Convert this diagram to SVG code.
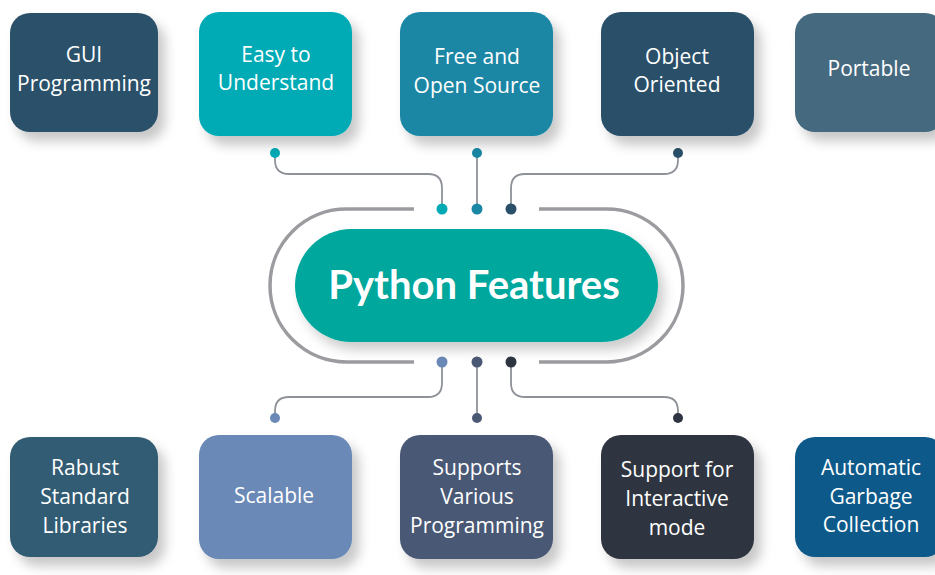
<svg xmlns="http://www.w3.org/2000/svg" width="935" height="575" viewBox="0 0 935 575">
<defs>
<filter id="sh" x="-20%" y="-20%" width="150%" height="150%">
<feDropShadow dx="7" dy="9" stdDeviation="6" flood-color="#000" flood-opacity="0.22"/>
</filter>
<filter id="sh2" x="-10%" y="-20%" width="130%" height="160%">
<feDropShadow dx="6" dy="8" stdDeviation="6" flood-color="#000" flood-opacity="0.2"/>
</filter>
</defs>
<style>
.box{filter:url(#sh)}
.t{font-family:"Open Sans","Liberation Sans",sans-serif;font-size:21px;fill:#fff;text-anchor:middle}
.title{font-family:Lato,"Liberation Sans",sans-serif;font-weight:bold;font-size:40px;fill:#fff;text-anchor:middle}
.ln{fill:none;stroke:#8e9298;stroke-width:1.8}
.br{fill:none;stroke:#9c9ca0;stroke-width:3.5}
</style>
<rect width="935" height="575" fill="#fff"/>

<g id="connectors">
<path class="br" d="M414 209 H346.5 A76.5 76.5 0 0 0 346.5 362 H414"/>
<path class="br" d="M539 209 H606.5 A76.5 76.5 0 0 1 606.5 362 H539"/>
<path class="ln" d="M275 153 V160 Q275 174 289 174 H428 Q442 174 442 188 V209"/>
<path class="ln" d="M477 153 V209"/>
<path class="ln" d="M678 153 V160 Q678 174 664 174 H525 Q511 174 511 188 V209"/>
<path class="ln" d="M442 362 V383 Q442 397 428 397 H289 Q275 397 275 411 V418"/>
<path class="ln" d="M477 362 V418"/>
<path class="ln" d="M511 362 V383 Q511 397 525 397 H664 Q678 397 678 411 V418"/>
<circle cx="275" cy="153" r="5" fill="#00aab5"/>
<circle cx="477" cy="153" r="5" fill="#1a87a5"/>
<circle cx="678" cy="153" r="5" fill="#2a5069"/>
<circle cx="442" cy="209" r="5.5" fill="#00aab5"/>
<circle cx="477" cy="209" r="5.5" fill="#1a87a5"/>
<circle cx="511" cy="209" r="5.5" fill="#2a5069"/>
<circle cx="442" cy="362" r="5.5" fill="#6a89b7"/>
<circle cx="477" cy="362" r="5.5" fill="#4a5874"/>
<circle cx="511" cy="362" r="5.5" fill="#2e3540"/>
<circle cx="275" cy="418" r="5" fill="#6a89b7"/>
<circle cx="477" cy="418" r="5" fill="#4a5874"/>
<circle cx="678" cy="418" r="5" fill="#2e3540"/>
</g>

<g id="center">
<rect x="295" y="229" width="363" height="113" rx="56.5" fill="#00a79d" filter="url(#sh2)"/>
<text class="title" x="474" y="299">Python Features</text>
</g>

<g id="gui">
<rect class="box" x="10" y="13" width="148" height="119" rx="20" fill="#2b5169"/>
<text class="t" x="84" y="62">GUI</text>
<text class="t" x="84" y="91">Programming</text>
</g>
<g id="easy">
<rect class="box" x="199" y="12" width="153" height="124" rx="20" fill="#00abb6"/>
<text class="t" x="276" y="62">Easy to</text>
<text class="t" x="276" y="90">Understand</text>
</g>
<g id="free">
<rect class="box" x="400" y="12" width="153" height="124" rx="20" fill="#1a87a5"/>
<text class="t" x="477" y="64">Free and</text>
<text class="t" x="477" y="93">Open Source</text>
</g>
<g id="object">
<rect class="box" x="601" y="12" width="153" height="124" rx="20" fill="#2a5069"/>
<text class="t" x="677" y="64">Object</text>
<text class="t" x="677" y="92">Oriented</text>
</g>
<g id="portable">
<rect class="box" x="795" y="13" width="150" height="119" rx="20" fill="#44697f"/>
<text class="t" x="869" y="76">Portable</text>
</g>

<g id="rabust">
<rect class="box" x="10" y="437" width="148" height="120" rx="20" fill="#335c73"/>
<text class="t" x="85" y="475">Rabust</text>
<text class="t" x="85" y="504">Standard</text>
<text class="t" x="85" y="533">Libraries</text>
</g>
<g id="scalable">
<rect class="box" x="199" y="435" width="153" height="124" rx="20" fill="#6a89b7"/>
<text class="t" x="274" y="503">Scalable</text>
</g>
<g id="supports">
<rect class="box" x="400" y="435" width="153" height="124" rx="20" fill="#4a5874"/>
<text class="t" x="477" y="475">Supports</text>
<text class="t" x="477" y="504">Various</text>
<text class="t" x="477" y="533">Programming</text>
</g>
<g id="interactive">
<rect class="box" x="601" y="435" width="153" height="124" rx="20" fill="#2e3540"/>
<text class="t" x="677" y="477">Support for</text>
<text class="t" x="677" y="506">Interactive</text>
<text class="t" x="677" y="535">mode</text>
</g>
<g id="garbage">
<rect class="box" x="795" y="437" width="150" height="120" rx="20" fill="#0d5a8a"/>
<text class="t" x="871" y="475">Automatic</text>
<text class="t" x="871" y="504">Garbage</text>
<text class="t" x="871" y="532">Collection</text>
</g>
</svg>
